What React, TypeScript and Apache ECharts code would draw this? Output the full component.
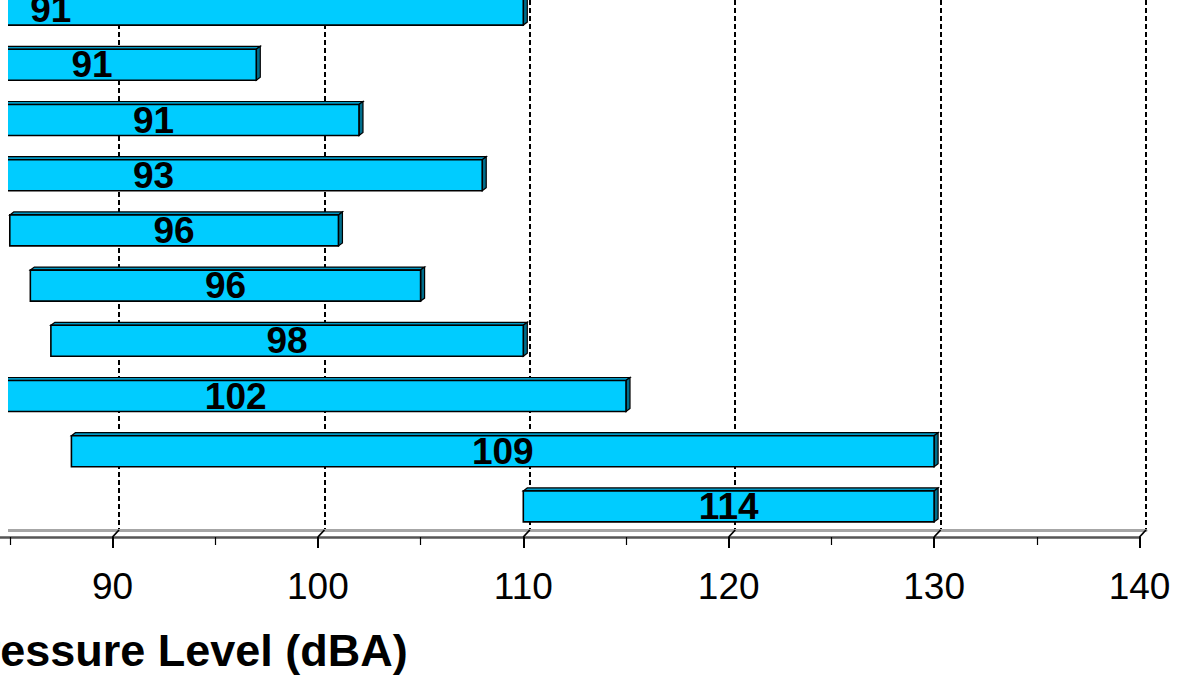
import React, { useEffect, useRef } from "react";
import * as echarts from "echarts";

// ---- data (index 0 = bottom row) ----
const categories = ["R1", "R2", "R3", "R4", "R5", "R6", "R7", "R8", "R9", "R10"];
const barStart = [110, 88, 77, 87, 86, 85, 76, 82, 81, 64];
const barEnd = [130, 130, 115, 110, 105, 101, 108, 102, 97, 110];
const barLabels = ["114", "109", "102", "98", "96", "96", "93", "91", "91", "91"];
const xMin = 40;
const xMax = 140;
const xStep = 10;
const visibleFrom = 90; // first tick label inside the cropped view
const majorTicks = [40, 50, 60, 70, 80, 90, 100, 110, 120, 130, 140];
const axisTitle = "Sound Pressure Level (dBA)";

// ---- layout ----
const OX = 940;
const OY = 40;
const W = 2130;
const H = 723;
const FONT = '"Liberation Sans", Arial, Helvetica, sans-serif';

export default function App() {
  const ref = useRef<HTMLDivElement>(null);

  useEffect(() => {
    if (!ref.current) return;
    const chart = echarts.init(ref.current, null, { renderer: "svg" });

    const frontLeft = 25.5;
    const plotW = 2054;
    const backLeft = frontLeft + 6.5;

    const option: any = {
      animation: false,
      backgroundColor: "#ffffff",
      grid: [
        // front plane (bars, axis line, ticks, labels)
        { left: frontLeft, width: plotW, top: 23, height: 552 },
        // back wall (dashed gridlines, back floor edge)
        { left: backLeft, width: plotW, top: 0, height: 570 },
      ],
      xAxis: [
        {
          type: "value",
          gridIndex: 0,
          min: xMin,
          max: xMax,
          interval: xStep,
          offset: 2,
          axisLine: { show: true, lineStyle: { color: "#555555", width: 2.5 } },
          axisTick: { show: true, length: 11, lineStyle: { color: "#000", width: 2 } },
          minorTick: { show: true, splitNumber: 2, length: 8, lineStyle: { color: "#000", width: 1.2 } },
          axisLabel: {
            show: true,
            fontSize: 37,
            color: "#000",
            margin: 31,
            fontFamily: FONT,
            formatter: (v: number) => (v >= visibleFrom ? String(v) : ""),
          },
          splitLine: { show: false },
        },
        {
          type: "value",
          gridIndex: 1,
          min: xMin,
          max: xMax,
          interval: xStep,
          axisLine: { show: true, lineStyle: { color: "#a6a6a6", width: 3 } },
          axisTick: { show: false },
          axisLabel: { show: false },
          splitLine: { show: true, lineStyle: { color: "#000", width: 2, type: [5, 3] } },
        },
      ],
      yAxis: [
        { type: "category", gridIndex: 0, data: categories, show: false },
        { type: "value", gridIndex: 1, show: false, min: 0, max: 1 },
      ],
      graphic: [
        {
          // the reference crops the plot area at its left edge
          type: "rect",
          z: 100,
          shape: { x: 0, y: 0, width: OX + 8, height: OY + 533 },
          style: { fill: "#ffffff" },
        },
        {
          type: "text",
          z: 101,
          x: 104 + OX,
          y: 650 + OY,
          style: {
            text: axisTitle,
            font: `bold 45px ${FONT}`,
            fill: "#000",
            align: "center",
            verticalAlign: "middle",
          },
        },
      ],
      series: [
        {
          type: "custom",
          xAxisIndex: 0,
          yAxisIndex: 0,
          data: majorTicks.map((v) => [v, 0]),
          renderItem: (params: any, api: any) => {
            const p = api.coord([api.value(0), 0]);
            const cs = params.coordSys;
            const yb = cs.y + cs.height;
            return {
              type: "line",
              shape: { x1: p[0] + 6.5, y1: yb - 5, x2: p[0], y2: yb + 2 },
              style: { stroke: "#000", lineWidth: 1.8 },
            };
          },
          z: 3,
        },
        {
          type: "custom",
          xAxisIndex: 0,
          yAxisIndex: 0,
          data: categories.map((c, i) => [barStart[i], barEnd[i], i]),
          renderItem: (params: any, api: any) => {
            const s = api.value(0);
            const e = api.value(1);
            const c = api.value(2);
            const p0 = api.coord([s, c]);
            const p1 = api.coord([e, c]);
            const h = 31;
            const cy = p0[1] - 1;
            const x0 = p0[0];
            const x1 = p1[0];
            const y0 = cy - h / 2;
            const y1 = cy + h / 2;
            const d = 4;
            const dy = 3;
            return {
              type: "group",
              children: [
                {
                  type: "polygon",
                  shape: { points: [[x0, y0], [x0 + d, y0 - dy], [x1 + d, y0 - dy], [x1, y0]] },
                  style: { fill: "#0099c4", stroke: "#000", lineWidth: 1.2 },
                },
                {
                  type: "polygon",
                  shape: { points: [[x1, y0], [x1 + d, y0 - dy], [x1 + d, y1 - dy], [x1, y1]] },
                  style: { fill: "#006e8c", stroke: "#000", lineWidth: 1.2 },
                },
                {
                  type: "rect",
                  shape: { x: x0, y: y0, width: x1 - x0, height: h },
                  style: { fill: "#00ccff", stroke: "#000", lineWidth: 1.6 },
                },
                {
                  type: "text",
                  style: {
                    text: barLabels[params.dataIndex],
                    x: (x0 + x1) / 2,
                    y: cy,
                    align: "center",
                    verticalAlign: "middle",
                    font: `bold 37px ${FONT}`,
                    fill: "#000",
                  },
                },
              ],
            };
          },
          z: 5,
        },
      ],
    };

    chart.setOption(option);
    return () => chart.dispose();
  }, []);

  return (
    <div
      style={{
        position: "fixed",
        left: 0,
        top: 0,
        width: 1178,
        height: 683,
        overflow: "hidden",
        background: "#fff",
      }}
    >
      <div
        ref={ref}
        style={{ position: "absolute", left: -OX, top: -OY, width: W, height: H }}
      />
    </div>
  );
}
